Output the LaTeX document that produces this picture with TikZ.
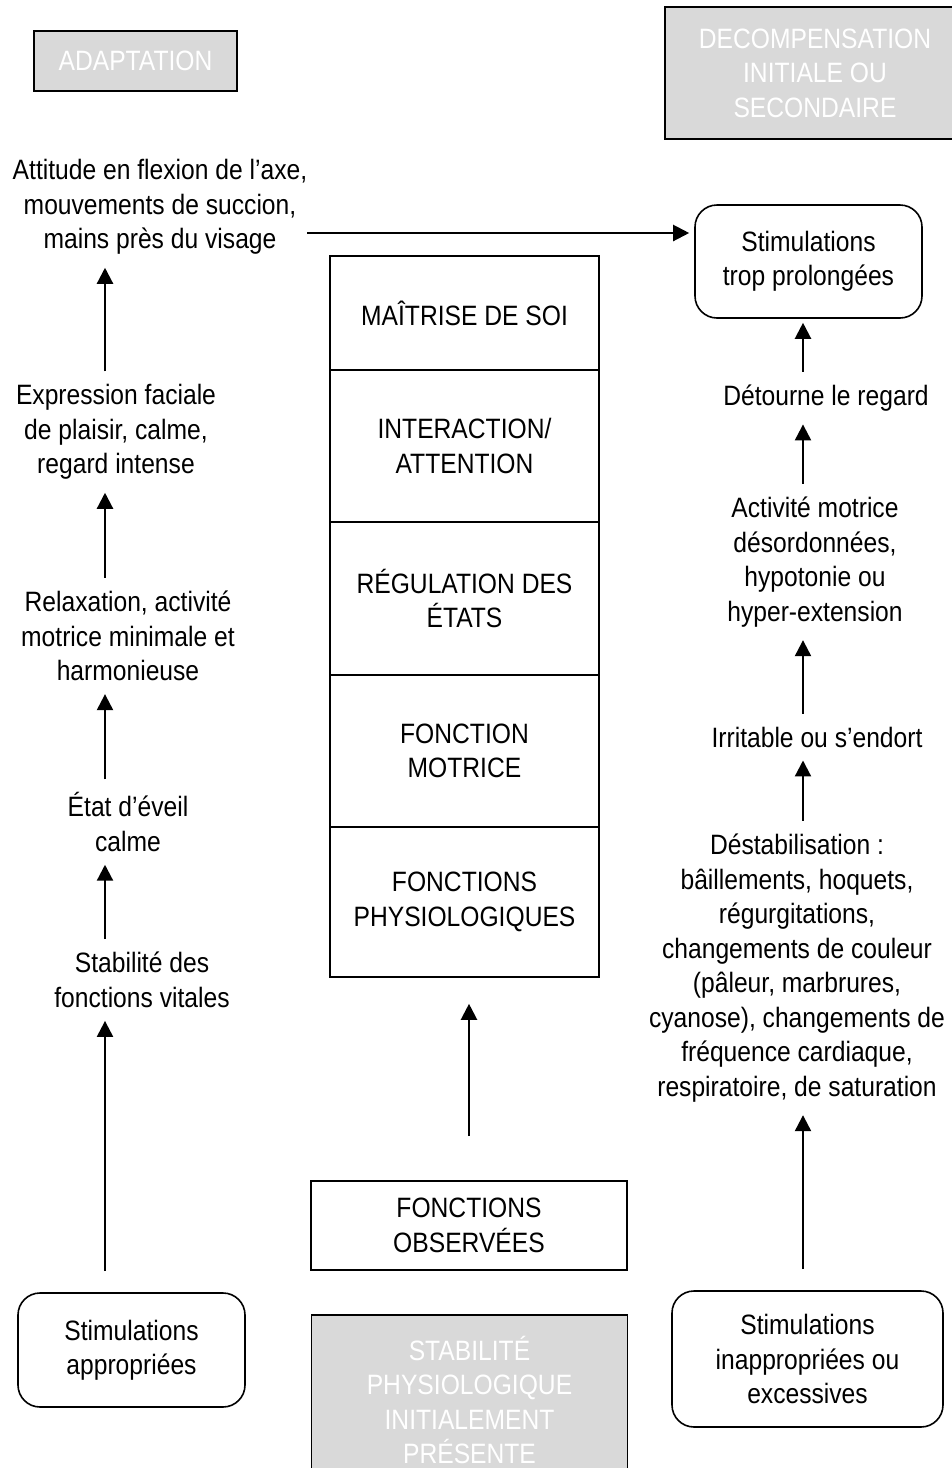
\documentclass[tikz,border=0pt]{standalone}
\usepackage{fontspec}
\setmainfont{Liberation Sans}[FakeStretch=0.88]
\usetikzlibrary{arrows.meta, positioning}

\begin{document}
\begin{tikzpicture}[
         x=1pt, y=-1pt,
         every node/.style={font=\fontsize{28}{34.5}\selectfont},
         label/.style={align=center, inner sep=0pt},
         stage/.style={draw, line width=1.6pt, align=center, minimum width=269pt},
         stimbox/.style={draw, line width=1.6pt, rounded corners=22pt, align=center},
         phase/.style={draw, line width=1.4pt, fill=black!15, text=white, align=center},
         flow/.style={line width=2.2pt, -{Triangle[length=16pt, width=16pt]},
                      shorten <=13pt, shorten >=13pt}
      ]
         \useasboundingbox (0,0) rectangle (951,1468);

         % Phases (gray boxes)
         \node[phase, minimum width=203pt, minimum height=60pt] (adapt) at (135.5,61) {ADAPTATION};
         \node[phase, minimum width=300pt, minimum height=132pt] (decomp) at (815,73)
            {DECOMPENSATION\\INITIALE OU\\SECONDAIRE};
         \node[phase, minimum width=316pt, minimum height=170pt] (stable) at (469.5,1400)
            {STABILITÉ\\PHYSIOLOGIQUE\\INITIALEMENT\\PRÉSENTE};

         % Central stack of functions
         \node[stage, minimum height=114pt] (maitrise) at (464.5,313) {MAÎTRISE DE SOI};
         \node[stage, minimum height=152pt] (interact) at (464.5,446) {INTERACTION/\\ATTENTION};
         \node[stage, minimum height=153pt] (regul) at (464.5,598.5) {RÉGULATION DES\\ÉTATS};
         \node[stage, minimum height=152pt] (motrice) at (464.5,751) {FONCTION\\MOTRICE};
         \node[stage, minimum height=150pt] (physio) at (464.5,902) {FONCTIONS\\PHYSIOLOGIQUES};
         \node[stage, minimum width=316pt, minimum height=89pt] (observ) at (469,1225.5)
            {FONCTIONS\\OBSERVÉES};

         % Left column: adaptation
         \node[stimbox, minimum width=227pt, minimum height=114pt] (stimA) at (131.5,1350)
            {Stimulations\\appropriées};
         \node[label] (vitales) at (142,980) {Stabilité des\\fonctions vitales};
         \node[label] (eveil) at (128,822) {État d’éveil\\calme};
         \node[label] (relax) at (128,636) {Relaxation, activité\\motrice minimale et\\harmonieuse};
         \node[label] (faciale) at (116,432) {Expression faciale\\de plaisir, calme,\\regard intense};
         \node[label] (attitude) at (160,207) {Attitude en flexion de l’axe,\\mouvements de succion,\\mains près du visage};

         % Right column: decompensation
         \node[stimbox, minimum width=271pt, minimum height=136pt] (stimI) at (807.5,1359)
            {Stimulations\\inappropriées ou\\excessives};
         \node[label] (destab) at (797,968) {Déstabilisation :\\bâillements, hoquets,\\régurgitations,\\changements de couleur\\(pâleur, marbrures,\\cyanose), changements de\\fréquence cardiaque,\\respiratoire, de saturation};
         \node[label] (irrit) at (817,737) {Irritable ou s’endort};
         \node[label] (desord) at (815,562) {Activité motrice\\désordonnées,\\hypotonie ou\\hyper-extension};
         \node[label] (regard) at (826,398) {Détourne le regard};
         \node[stimbox, minimum width=227pt, minimum height=113pt] (stimT) at (808.5,261.5)
            {Stimulations\\trop prolongées};

         \coordinate (colL) at (105,0);
         \coordinate (colR) at (803,0);

         % Arrows
         \draw[flow, shorten <=21pt] (stimA.north -| colL) -- (vitales.south -| colL);
         \draw[flow] (vitales.north -| colL) -- (eveil.south -| colL);
         \draw[flow] (eveil.north -| colL) -- (relax.south -| colL);
         \draw[flow] (relax.north -| colL) -- (faciale.south -| colL);
         \draw[flow] (faciale.north -| colL) -- (attitude.south -| colL);
         \draw[flow, shorten <=0pt, shorten >=5pt] ([yshift=-26pt]attitude.east) -- ([yshift=-26pt]attitude.east -| stimT.west);

         \draw[flow, shorten <=44pt, shorten >=26pt] (observ.north) -- (observ.north |- physio.south);

         \draw[flow, shorten <=21pt] (stimI.north -| colR) -- (destab.south -| colR);
         \draw[flow] (destab.north -| colR) -- (irrit.south -| colR);
         \draw[flow] (irrit.north -| colR) -- (desord.south -| colR);
         \draw[flow] (desord.north -| colR) -- (regard.south -| colR);
         \draw[flow, shorten >=4pt] (regard.north -| colR) -- (stimT.south -| colR);
      \end{tikzpicture}
\end{document}
